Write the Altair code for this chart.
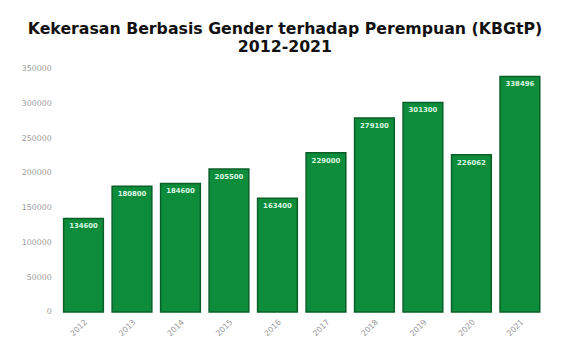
import altair as alt
import pandas as pd

years = ["2012", "2013", "2014", "2015", "2016", "2017", "2018", "2019", "2020", "2021"]
values = [134600, 180800, 184600, 205500, 163400, 229000, 279100, 301300, 226062, 338496]
y_ticks = [0, 50000, 100000, 150000, 200000, 250000, 300000, 350000]

df = pd.DataFrame({"year": years, "value": values})

y_enc = alt.Y("value:Q", title=None,
              scale=alt.Scale(domain=[0, 350000], nice=False),
              axis=alt.Axis(values=y_ticks, format="d", labelColor="#9a9a9a", labelFontSize=8,
                            domain=False, ticks=False, grid=False, labelPadding=8,
                            labelOverlap=False, labelFont="DejaVu Sans"))

base = alt.Chart(df).encode(
    x=alt.X("year:N", sort=years, title=None,
            scale=alt.Scale(paddingInner=0.18, paddingOuter=0.09),
            axis=alt.Axis(labelAngle=-45, labelColor="#9a9a9a", labelFontSize=8,
                          domain=False, ticks=False, labelPadding=6,
                          labelFont="DejaVu Sans")),
    y=y_enc,
)

bars = base.mark_bar(color="#0d8c3b", stroke="#0a5f29", strokeWidth=1.5)

labels = base.mark_text(baseline="top", dy=4, fontSize=7, color="#d9f7e2",
                        fontWeight="bold", font="DejaVu Sans").encode(
    text=alt.Text("value:Q", format="d"),
)

chart = (bars + labels).properties(
    width=492, height=247,
    padding={"left": 52, "top": 59, "right": 10, "bottom": 30},
    autosize=alt.AutoSizeParams(type="none"),
    title=alt.Title(
        ["Kekerasan Berbasis Gender terhadap Perempuan (KBGtP)", "2012-2021"],
        font="DejaVu Sans", fontSize=16, fontWeight="bold", color="#111111",
        anchor="middle", offset=10, lineHeight=18, dx=-17,
    ),
).configure(background="white").configure_view(stroke="transparent")

chart.save("out.html", embed_options={"renderer": "svg", "actions": False})
